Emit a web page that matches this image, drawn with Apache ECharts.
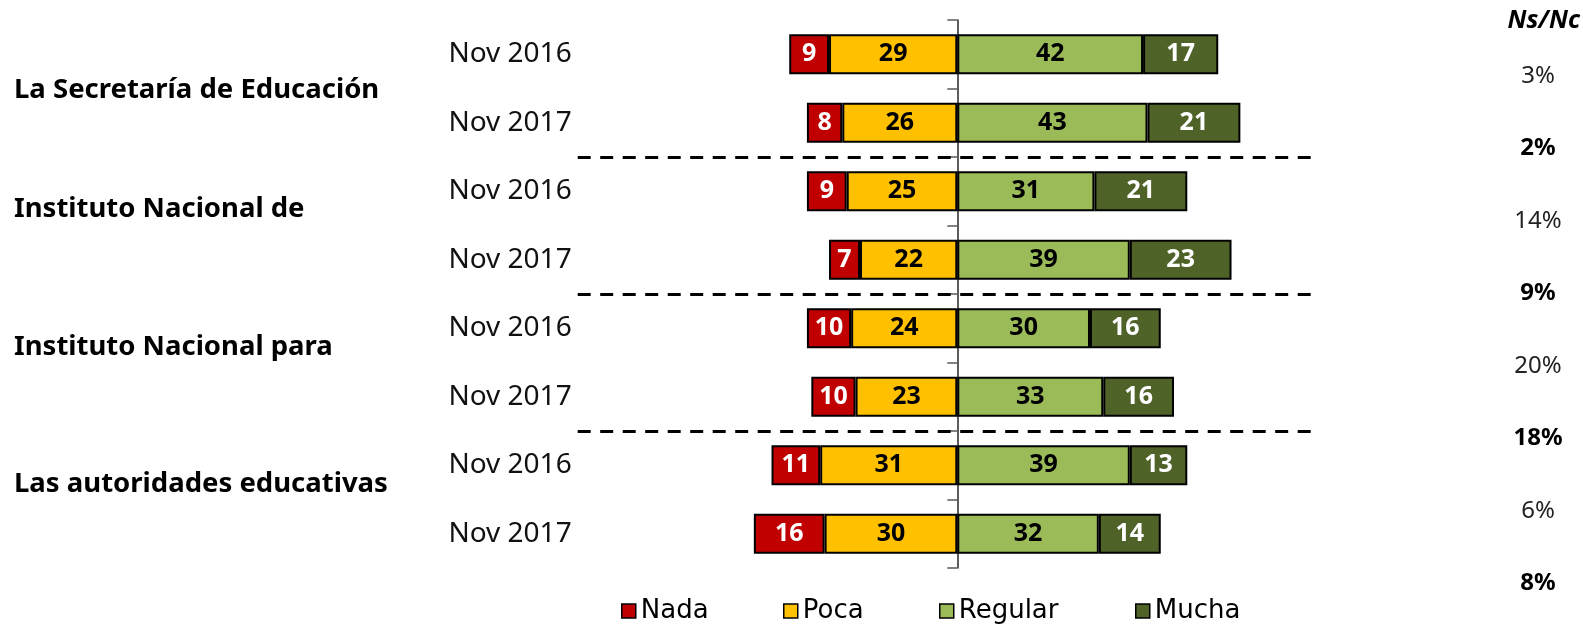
<!DOCTYPE html>
<html>
<head>
<meta charset="utf-8">
<script src="https://cdn.jsdelivr.net/npm/echarts@6/dist/echarts.min.js"></script>
<style>
  html, body { margin: 0; padding: 0; background: #ffffff; }
  #chart { width: 1583px; height: 626px; }
</style>
</head>
<body>
<div id="chart"></div>
<script>
// rows, top to bottom
const periods = ['Nov 2016', 'Nov 2017', 'Nov 2016', 'Nov 2017', 'Nov 2016', 'Nov 2017', 'Nov 2016', 'Nov 2017']
const groups = ['La Secretaría de Educación', 'Instituto Nacional de', 'Instituto Nacional para', 'Las autoridades educativas']
const nada = [9, 8, 9, 7, 10, 10, 11, 16]
const poca = [29, 26, 25, 22, 24, 23, 31, 30]
const regular = [42, 43, 31, 39, 30, 33, 39, 32]
const mucha = [17, 21, 21, 23, 16, 16, 13, 14]
const nsnc = [3, 2, 14, 9, 20, 18, 6, 8]
const groupBreaks = [1, 2, 3]

const colors = { Nada: '#C00000', Poca: '#FFC000', Regular: '#9BBB59', Mucha: '#4F6228' }
const font = '"Noto Sans", "Open Sans", sans-serif'

// vertical spot of each group label (they sit a bit high, like the original)
const groupLabelY = [86, 205, 343, 480]

const chart = echarts.init(document.getElementById('chart'), null, { renderer: 'canvas' })

function barSeries (name, values, negative, labelColor) {
  return {
    name: name,
    type: 'bar',
    stack: 'total',
    xAxisIndex: 0,
    yAxisIndex: 0,
    barWidth: 40,
    data: values.map(v => negative ? -v : v),
    itemStyle: { color: colors[name], borderColor: '#000', borderWidth: 2 },
    label: {
      show: true,
      position: 'inside',
      formatter: p => Math.abs(p.value),
      color: labelColor,
      fontFamily: font,
      fontWeight: 'bold',
      fontSize: 25
    }
  }
}

const legendLefts = [621, 783, 939, 1135]
const legendNames = ['Nada', 'Poca', 'Regular', 'Mucha']

const option = {
  backgroundColor: '#ffffff',
  animation: false,
  grid: [
    { left: 736.15, right: 316.1, top: 20, height: 548 },
    { left: 1538, width: 1, top: 39.4, height: 580.5 },
    { left: 577.7, right: 265, top: 20, height: 548 }
  ],
  xAxis: [
    { gridIndex: 0, type: 'value', min: -50, max: 70, show: false },
    { gridIndex: 1, type: 'value', show: false },
    { gridIndex: 2, type: 'value', min: 0, max: 1, show: false }
  ],
  yAxis: [
    {
      gridIndex: 0,
      type: 'category',
      inverse: true,
      data: periods,
      axisLine: { onZero: true, lineStyle: { color: '#262626', width: 1.5 } },
      axisTick: { show: true, length: 10, lineStyle: { color: '#595959', width: 1.5 } },
      axisLabel: { margin: 164.5, color: '#111', fontFamily: font, fontSize: 28 },
      splitLine: { show: false }
    },
    {
      gridIndex: 1,
      type: 'category',
      inverse: true,
      data: nsnc.map(v => v + '%'),
      axisLine: { show: false },
      axisTick: { show: false },
      axisLabel: {
        margin: 0,
        align: 'center',
        formatter: (v, i) => i % 2 ? '{b|' + v + '}' : '{n|' + v + '}',
        rich: {
          n: { fontFamily: font, fontSize: 24, color: '#222' },
          b: { fontFamily: font, fontSize: 24, fontWeight: 'bold', color: '#000' }
        }
      }
    },
    { gridIndex: 2, type: 'value', inverse: true, min: 0, max: groups.length, show: false }
  ],
  legend: legendNames.map((n, i) => ({
    data: [{ name: n, itemStyle: { color: colors[n], borderColor: '#000', borderWidth: 1.5 } }],
    left: legendLefts[i],
    top: 598,
    padding: 0,
    icon: 'rect',
    itemWidth: 14,
    itemHeight: 14,
    selectedMode: false,
    textStyle: { fontFamily: '"DejaVu Sans", sans-serif', fontSize: 26, color: '#000', padding: [0, 0, 0, 0] }
  })),
  graphic: groups.map((g, i) => ({
    type: 'text',
    left: 14,
    top: groupLabelY[i] - 10,
    style: { text: g, fontFamily: font, fontWeight: 'bold', fontSize: 27.5, fill: '#000' }
  })).concat([{
    type: 'text',
    right: 3,
    top: 8,
    style: { text: 'Ns/Nc', fontFamily: font, fontWeight: 'bold', fontStyle: 'italic', fontSize: 25, fill: '#000' }
  }]),
  series: [
    barSeries('Poca', poca, true, '#000'),
    barSeries('Nada', nada, true, '#fff'),
    barSeries('Regular', regular, false, '#000'),
    barSeries('Mucha', mucha, false, '#fff'),
    {
      type: 'line',
      xAxisIndex: 2,
      yAxisIndex: 2,
      data: [],
      silent: true,
      markLine: {
        silent: true,
        symbol: 'none',
        label: { show: false },
        lineStyle: { color: '#000', width: 3, type: [13, 9.5] },
        data: groupBreaks.map(b => ({ yAxis: b }))
      }
    }
  ]
}

chart.setOption(option)
</script>
</body>
</html>
